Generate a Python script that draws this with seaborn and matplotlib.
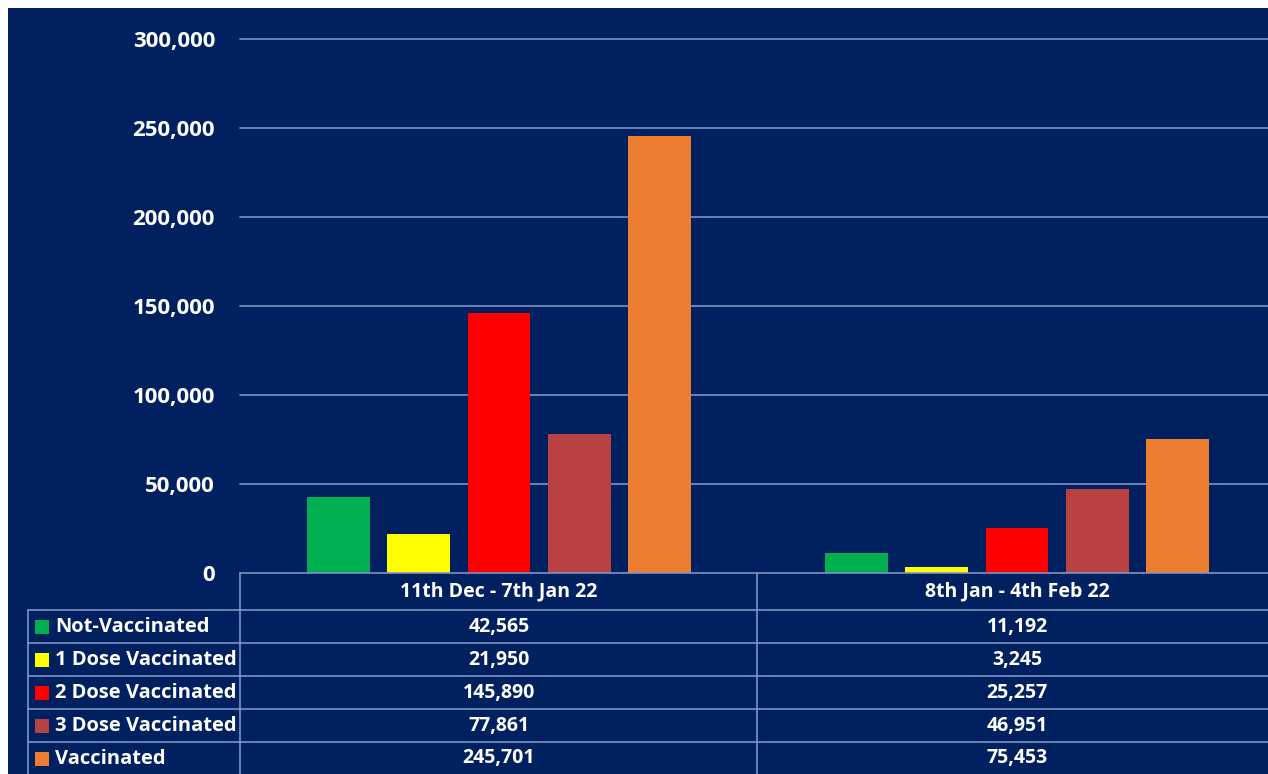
import pandas as pd
import matplotlib
matplotlib.use('Agg')
import matplotlib.pyplot as plt
import matplotlib.transforms as mtransforms
from matplotlib.patches import Rectangle
import seaborn as sns

# Data
periods = ['11th Dec - 7th Jan 22', '8th Jan - 4th Feb 22']
groups = ['Not-Vaccinated', '1 Dose Vaccinated', '2 Dose Vaccinated',
          '3 Dose Vaccinated', 'Vaccinated']
period1 = [42565, 21950, 145890, 77861, 245701]
period2 = [11192, 3245, 25257, 46951, 75453]
colors = ['#00B050', '#FFFF00', '#FF0000', '#B94141', '#ED7D31']
yticks = [0, 50000, 100000, 150000, 200000, 250000, 300000]

df = pd.DataFrame({
    'period': [periods[0]] * 5 + [periods[1]] * 5,
    'group': groups * 2,
    'cases': period1 + period2,
})

navy = '#002060'
grid_col = '#7f93c4'

sns.set_style('white')
plt.rcParams['font.family'] = ['Open Sans', 'DejaVu Sans']
plt.rcParams['font.weight'] = 'bold'

W, H = 1268, 774
fig = plt.figure(figsize=(W / 100, H / 100), dpi=100)
fig.patch.set_facecolor('white')
# navy panel (image has a thin white margin top/left)
fig.patches.append(Rectangle((8 / W, 0), 1, 1 - 8 / H, transform=fig.transFigure,
                             facecolor=navy, edgecolor='none', zorder=-5))


def fy(py):
    return 1 - py / H


# plot area runs slightly past the right edge of the picture
ax = fig.add_axes([240 / W, fy(573), 1036 / W, (573 - 39) / H])
ax.patch.set_alpha(0)

sns.barplot(data=df, x='period', y='cases', hue='group', hue_order=groups,
            palette=colors, width=0.775, gap=0.22, saturation=1,
            edgecolor='none', linewidth=0, legend=False, ax=ax, zorder=3)

ax.set_xlim(-0.5, 1.5)
ax.set_ylim(0, 300000)
ax.set_yticks(yticks)
ax.set_yticklabels([f'{v:,}' for v in yticks], color='white', fontsize=16,
                   fontweight='bold')
ax.tick_params(axis='y', length=0, pad=18)
ax.set_xticks([])
ax.set_xlabel('')
ax.set_ylabel('')
for s in ax.spines.values():
    s.set_visible(False)
for v in yticks[1:]:
    ax.axhline(v, color=grid_col, lw=1.2, zorder=1, clip_on=False)

# ---- data table under the chart ----
line_kw = dict(color=grid_col, lw=1.2, transform=fig.transFigure)
row_lines = [573, 610, 643, 676, 709, 742]
for i, py in enumerate(row_lines):
    x0 = 240 if i == 0 else 28
    fig.add_artist(plt.Line2D([x0 / W, 1], [fy(py), fy(py)], **line_kw))
fig.add_artist(plt.Line2D([28 / W, 28 / W], [fy(610), 0], **line_kw))
fig.add_artist(plt.Line2D([240 / W, 240 / W], [fy(573), 0], **line_kw))
fig.add_artist(plt.Line2D([757 / W, 757 / W], [fy(573), 0], **line_kw))

trans = mtransforms.blended_transform_factory(ax.transData, fig.transFigure)
for i, p in enumerate(periods):
    fig.text(i, fy(591), p, transform=trans, ha='center', va='center',
             color='white', fontsize=14, fontweight='bold')

row_mid = [627, 660, 693, 726, 758.5]
for j, g in enumerate(groups):
    y = fy(row_mid[j])
    fig.patches.append(Rectangle((35 / W, y - 7 / H), 14 / W, 14 / H,
                                 transform=fig.transFigure, facecolor=colors[j],
                                 edgecolor='none', zorder=2))
    fig.text(55 / W, y, g, ha='left', va='center', color='white',
             fontsize=14.5, fontweight='bold')
    for i, vals in enumerate([period1, period2]):
        fig.text(i, y, f'{vals[j]:,}', transform=trans, ha='center',
                 va='center', color='white', fontsize=14, fontweight='bold')

fig.savefig('out.png', dpi=100, facecolor=fig.get_facecolor())
